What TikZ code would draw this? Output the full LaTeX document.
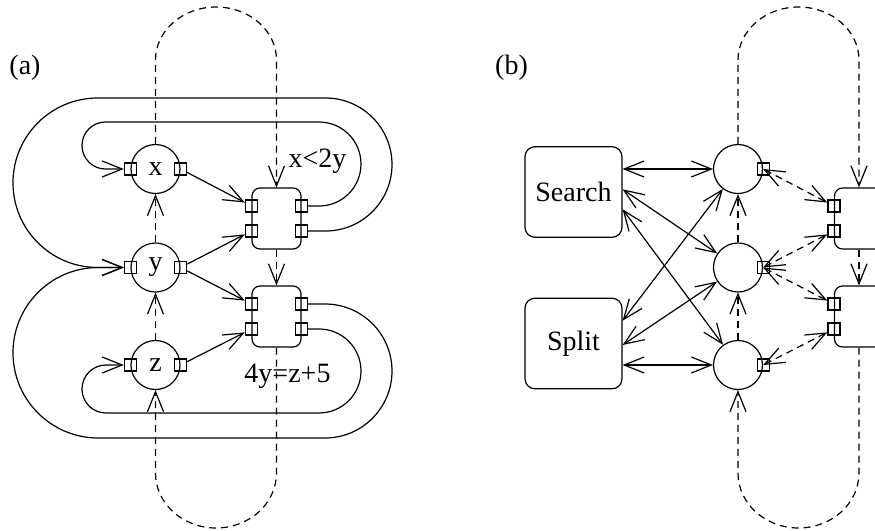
\documentclass[tikz,border=0pt]{standalone}
\usepackage{fontspec}
\setmainfont{Liberation Serif}
\usetikzlibrary{arrows.meta,calc}

\begin{document}
\begin{tikzpicture}[x=0.5pt,y=0.5pt,>={Straight Barb[length=10pt,width=8pt]},line width=0.6pt,font=\fontsize{14}{17}\selectfont] % 1 unit = 1 px
\tikzstyle{myvar} = [circle, draw, minimum size=24.5pt, inner sep=0pt] % переменная
\tikzstyle{myport} = [rectangle, draw, minimum size=6pt, inner sep=0pt] % порт
\tikzstyle{mycons} = [rectangle, draw, rounded corners=4pt, minimum width=24.5pt, minimum height=30.5pt] % ограничение
\tikzstyle{mysolver} = [rectangle, draw, rounded corners=5pt, minimum width=48.5pt, minimum height=45.3pt] % Search, Split
\tikzstyle{mydep} = [dash pattern=on 3.5pt off 2.5pt] % пунктир

\useasboundingbox (0,0) rectangle (875,-531);
\clip (0,0) rectangle (875,-531);

% (a)
\node[anchor=base] (la) at (25,-74) {(a)};
\node[myvar] (x) at (155.5,-169) {x};
\node[myvar] (y) at (155.5,-267.5) {y};
\node[myvar] (z) at (155.5,-365) {z};
\node[myport] (lx) at (x.west) {}; \node[myport] (rx) at (x.east) {};
\node[myport] (ly) at (y.west) {}; \node[myport] (ry) at (y.east) {};
\node[myport] (lz) at (z.west) {}; \node[myport] (rz) at (z.east) {};
\node[mycons] (k1) at (276.5,-218.5) {};
\node[mycons] (k2) at (276.5,-316.5) {};
\node[myport] (ak1) at ($(k1.west)+(0,12.5)$) {}; \node[myport] (bk1) at ($(k1.west)+(0,-12.5)$) {};
\node[myport] (ck1) at ($(k1.east)+(0,12.5)$) {}; \node[myport] (dk1) at ($(k1.east)+(0,-12.5)$) {};
\node[myport] (ak2) at ($(k2.west)+(0,12.5)$) {}; \node[myport] (bk2) at ($(k2.west)+(0,-12.5)$) {};
\node[myport] (ck2) at ($(k2.east)+(0,12.5)$) {}; \node[myport] (dk2) at ($(k2.east)+(0,-12.5)$) {};
\node[anchor=base] (t1) at (317.5,-167) {x<2y};
\node[anchor=base] (t2) at (287.5,-382.5) {4y=z+5};

\draw[->] (rx) -- (ak1);
\draw[->] (ry) -- (bk1);
\draw[->] (ry) -- (ak2);
\draw[->] (rz) -- (bk2);
\draw[->] (ck1.east) -- (319,-206) arc[start angle=-90,end angle=90,radius=21pt] -- (105.5,-122) arc[start angle=90,end angle=270,radius=11.75pt] -- (lx); % внутренние петли
\draw[->] (dk2.east) -- (319,-329) arc[start angle=90,end angle=-90,radius=21pt] -- (106,-413) arc[start angle=270,end angle=90,radius=12pt] -- (lz);
\draw[->] (dk1.east) -- (325.5,-231) arc[start angle=-90,end angle=90,radius=33.25pt] -- (97.75,-98) arc[start angle=90,end angle=270,radius=42.375pt] -- (ly); % внешние петли
\draw[->] (ck2.east) -- (325,-304) arc[start angle=90,end angle=-90,radius=33.5pt] -- (98.25,-438) arc[start angle=270,end angle=90,radius=42.625pt] -- (ly);

\draw[mydep,->] (y) -- (x);
\draw[mydep,->] (z) -- (y);
\draw[mydep,->] (x.north) -- (155.5,-60) arc[start angle=180,end angle=0,x radius=30.25pt,y radius=26.5pt] -- (k1.north);
\draw[mydep,->] (k1) -- (k2);
\draw[mydep,->] (k2.south) -- (276.5,-473) arc[start angle=0,end angle=-180,x radius=30.25pt,y radius=27.5pt] -- (z.south);

% (b)
\node[anchor=base] (lb) at (511.5,-74) {(b)};
\node[mysolver] (search) at (573.5,-192) {Search};
\node[mysolver] (split) at (573.5,-343.5) {Split};
\node[myvar] (u1) at (738,-169) {};
\node[myvar] (u2) at (738,-267.5) {};
\node[myvar] (u3) at (738,-365) {};
\node[myport] (ru1) at (u1.east) {};
\node[myport] (ru2) at (u2.east) {};
\node[myport] (ru3) at (u3.east) {};
\node[mycons] (m1) at (859,-218.5) {};
\node[mycons] (m2) at (859,-316.5) {};
\node[myport] (am1) at ($(m1.west)+(0,12.5)$) {}; \node[myport] (bm1) at ($(m1.west)+(0,-12.5)$) {};
\node[myport] (am2) at ($(m2.west)+(0,12.5)$) {}; \node[myport] (bm2) at ($(m2.west)+(0,-12.5)$) {};

\draw[<->] (search.east |- u1) -- (u1);
\draw[<->] ($(search.east)+(0,2.7)$) -- (u2);
\draw[<->] ($(search.east)+(0,-17.3)$) -- (u3);
\draw[<->] ($(split.east)+(0,22.8)$) -- (u1);
\draw[<->] ($(split.east)+(0,-1.5)$) -- (u2);
\draw[<->] (split.east |- u3) -- (u3);

\draw[mydep,<->] (ru1.center) -- (am1);
\draw[mydep,<->] (ru2.center) -- (bm1);
\draw[mydep,<->] (ru2.center) -- (am2);
\draw[mydep,<->] (ru3.center) -- (bm2);
\draw[mydep,->] (u2) -- (u1);
\draw[mydep,->] (u3) -- (u2);
\draw[mydep,->] (u1.north) -- (738,-60) arc[start angle=180,end angle=0,x radius=30.25pt,y radius=26.5pt] -- (m1.north);
\draw[mydep,->] (m1) -- (m2);
\draw[mydep,->] (m2.south) -- (859,-473) arc[start angle=0,end angle=-180,x radius=30.25pt,y radius=27.5pt] -- (u3.south);
\end{tikzpicture}
\end{document}
